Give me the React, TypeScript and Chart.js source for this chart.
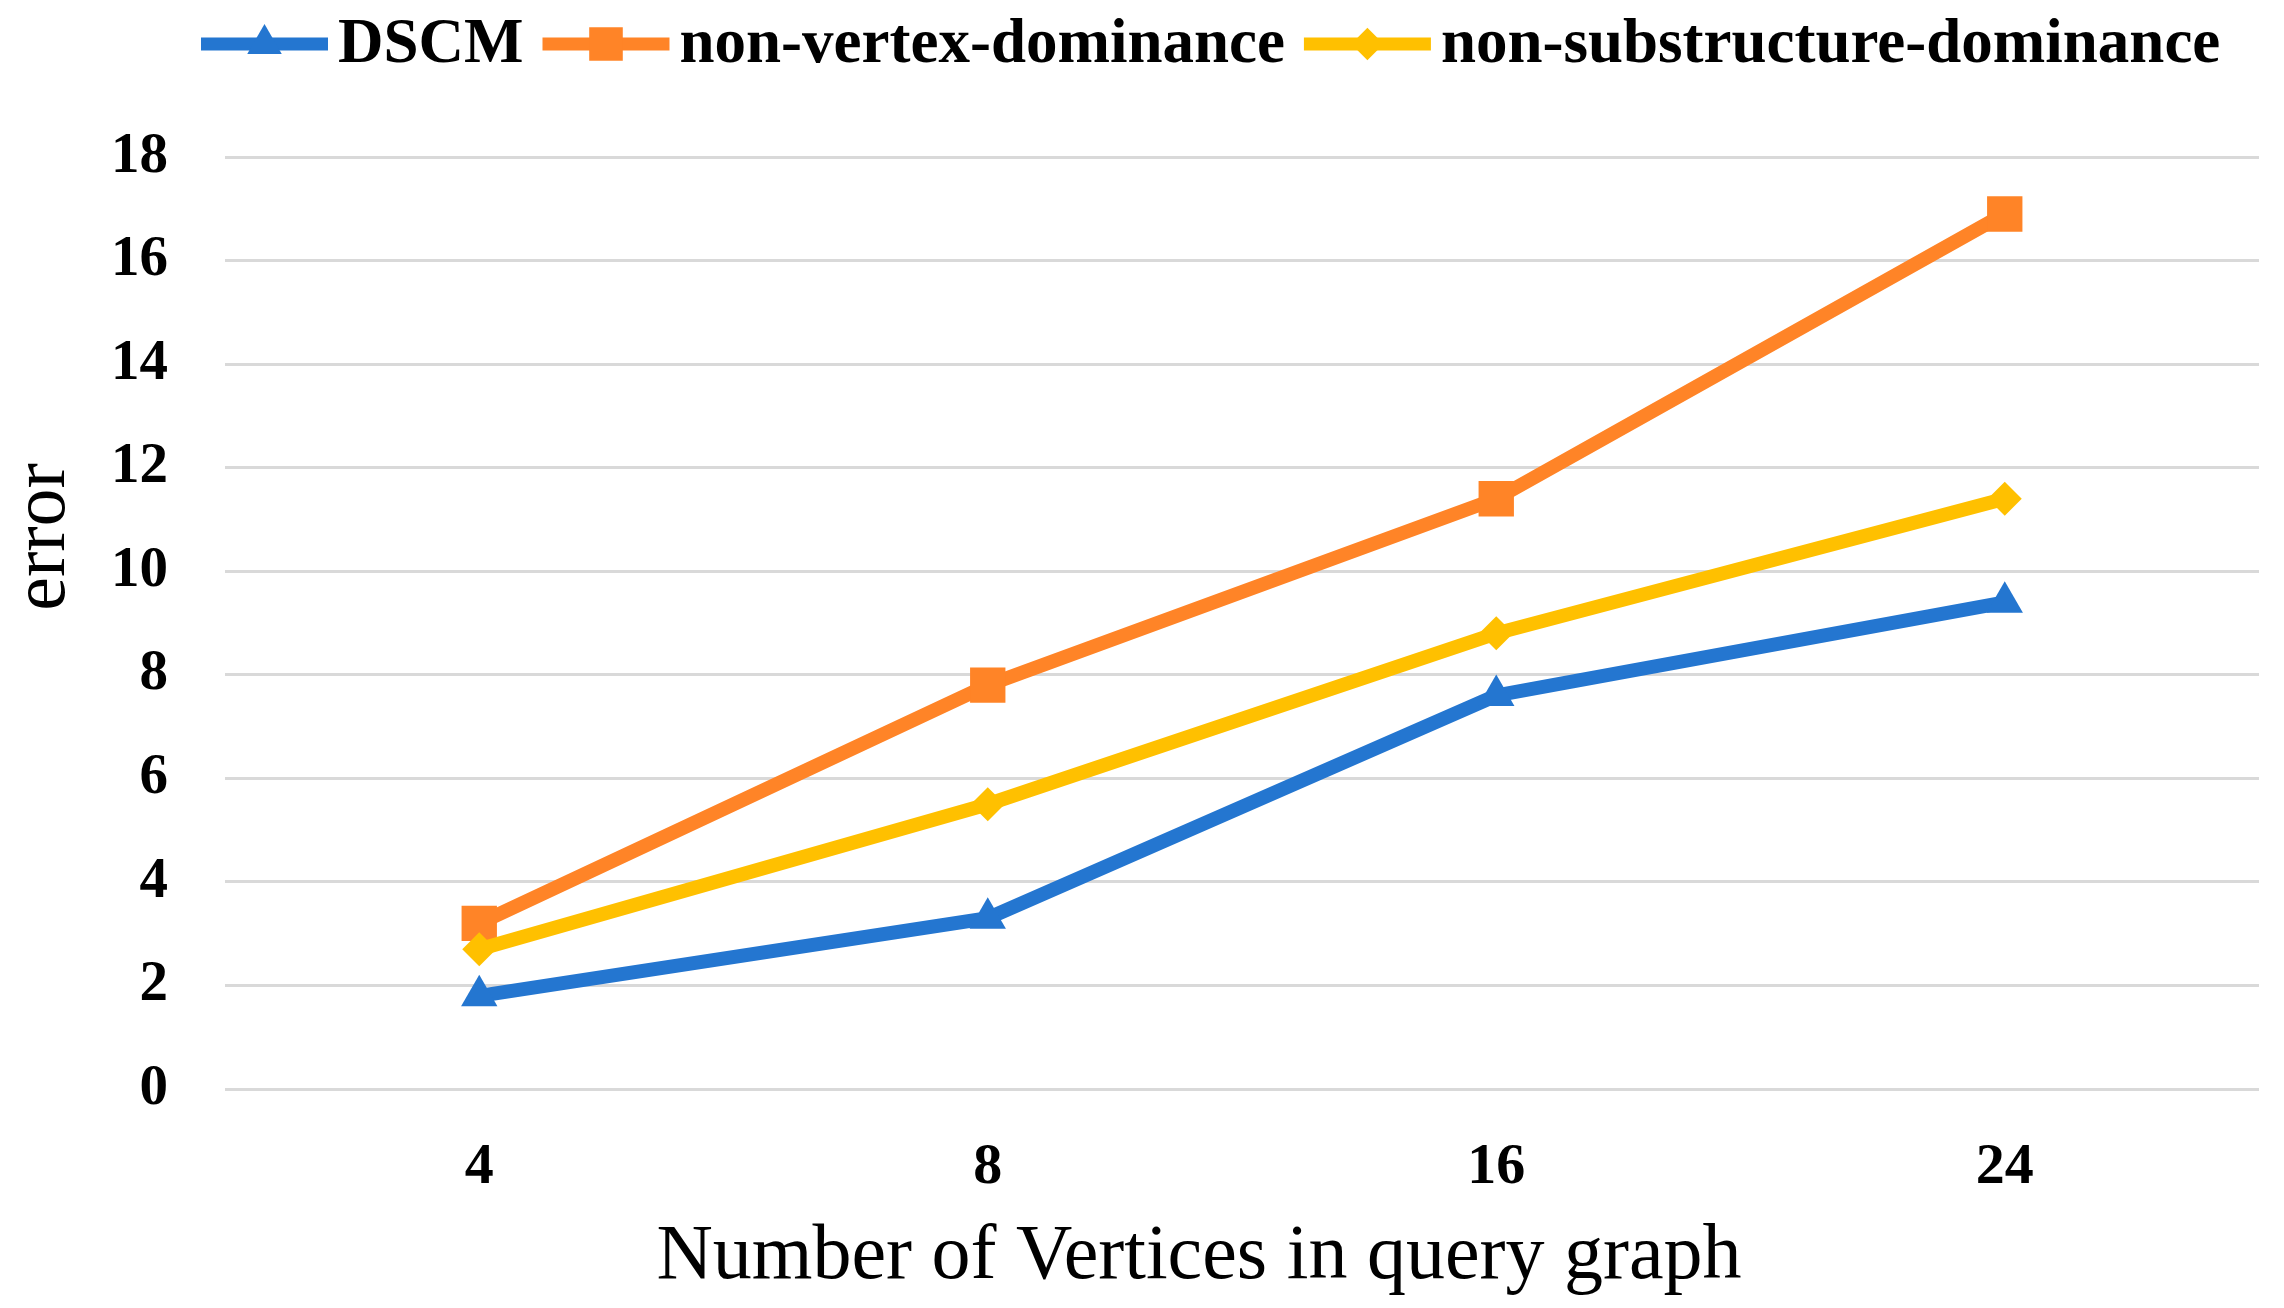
import React, { useEffect, useRef } from 'react';
import { Chart, registerables } from 'chart.js';

Chart.register(...registerables);

const categories = ['4', '8', '16', '24'];
const seriesNames = ['DSCM', 'non-vertex-dominance', 'non-substructure-dominance'];
const dscmValues = [1.8, 3.3, 7.6, 9.4];
const nonVertexValues = [3.2, 7.8, 11.4, 16.9];
const nonSubstructureValues = [2.7, 5.5, 8.8, 11.4];
const yMin = 0;
const yMax = 18;
const yStep = 2;
const xTitle = 'Number of Vertices in query graph';
const yTitle = 'error';

const BLUE = '#2476D0';
const ORANGE = '#FF8427';
const YELLOW = '#FFC000';
const SERIF = '"Liberation Serif", "Times New Roman", Times, serif';

function drawMarker(ctx: CanvasRenderingContext2D, style: string, x: number, y: number, r: number, color: string) {
  ctx.save();
  ctx.fillStyle = color;
  ctx.beginPath();
  if (style === 'triangle') {
    ctx.moveTo(x, y - r);
    ctx.lineTo(x + 0.866 * r, y + 0.5 * r);
    ctx.lineTo(x - 0.866 * r, y + 0.5 * r);
  } else if (style === 'rect') {
    const s = Math.SQRT1_2 * r;
    ctx.rect(x - s, y - s, 2 * s, 2 * s);
  } else {
    ctx.moveTo(x - r, y);
    ctx.lineTo(x, y - r);
    ctx.lineTo(x + r, y);
    ctx.lineTo(x, y + r);
  }
  ctx.closePath();
  ctx.fill();
  ctx.restore();
}

const legendPlugin = {
  id: 'customLegend',
  afterDraw(chart: any) {
    const ctx: CanvasRenderingContext2D = chart.ctx;
    const y = 44;
    let x = 201;
    const lineLen = 127;
    ctx.save();
    ctx.font = `bold 63px ${SERIF}`;
    ctx.textBaseline = 'middle';
    ctx.textAlign = 'left';
    chart.data.datasets.forEach((ds: any) => {
      ctx.strokeStyle = ds.borderColor;
      ctx.lineWidth = 13;
      ctx.beginPath();
      ctx.moveTo(x, y);
      ctx.lineTo(x + lineLen, y);
      ctx.stroke();
      drawMarker(ctx, ds.pointStyle, x + lineLen / 2, y, ds.pointRadius * 0.95, ds.pointBackgroundColor);
      x += lineLen + 10;
      ctx.fillStyle = '#000';
      ctx.fillText(ds.label, x, y + 2);
      x += ctx.measureText(ds.label).width + 19;
    });
    ctx.restore();
  },
};

const axisTitlePlugin = {
  id: 'axisTitles',
  afterDraw(chart: any) {
    const ctx: CanvasRenderingContext2D = chart.ctx;
    ctx.save();
    ctx.fillStyle = '#000';
    ctx.font = `78px ${SERIF}`;
    ctx.textAlign = 'center';
    ctx.textBaseline = 'alphabetic';
    ctx.fillText(xTitle, 1199, 1278);
    ctx.font = `76px ${SERIF}`;
    ctx.translate(64, 537);
    ctx.rotate(-Math.PI / 2);
    ctx.fillText(yTitle, 0, 0);
    ctx.restore();
  },
};

export default function App() {
  const ref = useRef<HTMLCanvasElement>(null);
  useEffect(() => {
    const canvas = ref.current;
    if (!canvas) return;
    const chart = new Chart(canvas, {
      type: 'line',
      data: {
        labels: categories,
        datasets: [
          {
            label: seriesNames[0],
            data: dscmValues,
            borderColor: BLUE,
            backgroundColor: BLUE,
            pointBackgroundColor: BLUE,
            pointBorderColor: BLUE,
            pointStyle: 'triangle',
            pointRadius: 21,
            pointBorderWidth: 0,
            borderWidth: 14,
            order: 2,
          },
          {
            label: seriesNames[1],
            data: nonVertexValues,
            borderColor: ORANGE,
            backgroundColor: ORANGE,
            pointBackgroundColor: ORANGE,
            pointBorderColor: ORANGE,
            pointStyle: 'rect',
            pointRadius: 25,
            pointBorderWidth: 0,
            borderWidth: 14,
            order: 1,
          },
          {
            label: seriesNames[2],
            data: nonSubstructureValues,
            borderColor: YELLOW,
            backgroundColor: YELLOW,
            pointBackgroundColor: YELLOW,
            pointBorderColor: YELLOW,
            pointStyle: 'rectRot',
            pointRadius: 17,
            pointBorderWidth: 0,
            borderWidth: 14,
            order: 0,
          },
        ],
      },
      options: {
        responsive: false,
        animation: false,
        devicePixelRatio: 1,
        layout: { padding: { top: 157, right: 21, left: 0, bottom: 0 } },
        plugins: {
          legend: { display: false },
          tooltip: { enabled: false },
        },
        scales: {
          x: {
            offset: true,
            grid: { display: false },
            border: { display: false },
            ticks: {
              color: '#000',
              font: { family: SERIF, size: 58, weight: 'bold' },
              padding: 36,
            },
            afterFit: (s: any) => {
              s.height = 219;
            },
          },
          y: {
            min: yMin,
            max: yMax,
            ticks: {
              stepSize: yStep,
              color: '#000',
              font: { family: SERIF, size: 57, weight: 'bold' },
              padding: 57,
            },
            grid: { color: '#d9d9d9', lineWidth: 3, drawTicks: false },
            border: { display: false },
            afterFit: (s: any) => {
              s.width = 225;
            },
          },
        },
      },
      plugins: [legendPlugin, axisTitlePlugin],
    } as any);
    return () => chart.destroy();
  }, []);
  return (
    <div style={{ position: 'absolute', left: 0, top: 0, width: 2284, height: 1308, background: '#fff' }}>
      <canvas ref={ref} width={2284} height={1308} style={{ display: 'block' }} />
    </div>
  );
}
